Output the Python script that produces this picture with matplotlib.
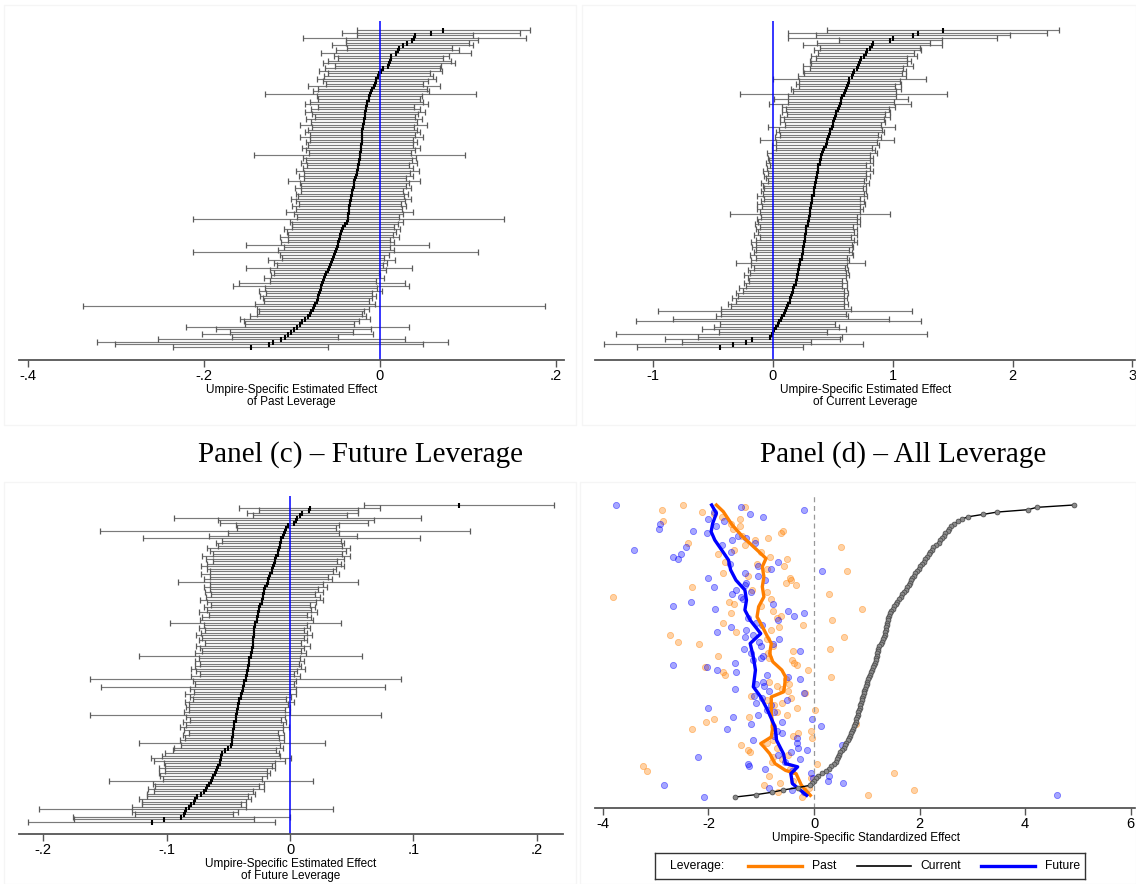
import numpy as np
import matplotlib
matplotlib.use('Agg')
import matplotlib.pyplot as plt
from matplotlib.patches import Rectangle

plt.rcParams['font.family'] = ['Liberation Sans', 'DejaVu Sans']

# ---- data (rows listed from top of each panel to bottom) ----
# Panel (a) past leverage: estimate and CI half-width per umpire
past_est = [0.072, 0.058, 0.040, 0.039, 0.036, 0.031, 0.026, 0.022, 0.020, 0.018,
            0.013, 0.012, 0.011, 0.010, 0.009, 0.003, 0.001, -0.001, -0.002, -0.004,
            -0.005, -0.006, -0.007, -0.009, -0.010, -0.011, -0.012, -0.013, -0.015, -0.015,
            -0.016, -0.016, -0.017, -0.017, -0.017, -0.018, -0.018, -0.019, -0.019, -0.020,
            -0.020, -0.020, -0.021, -0.021, -0.021, -0.022, -0.022, -0.022, -0.023, -0.023,
            -0.023, -0.024, -0.024, -0.025, -0.025, -0.026, -0.026, -0.027, -0.028, -0.029,
            -0.029, -0.030, -0.031, -0.032, -0.032, -0.033, -0.033, -0.034, -0.034, -0.035,
            -0.035, -0.035, -0.036, -0.036, -0.036, -0.038, -0.040, -0.042, -0.043, -0.044,
            -0.045, -0.046, -0.047, -0.048, -0.048, -0.049, -0.050, -0.051, -0.052, -0.053,
            -0.055, -0.056, -0.057, -0.058, -0.059, -0.061, -0.062, -0.064, -0.065, -0.066,
            -0.067, -0.067, -0.068, -0.069, -0.070, -0.071, -0.072, -0.074, -0.075, -0.076,
            -0.078, -0.080, -0.082, -0.085, -0.089, -0.091, -0.094, -0.098, -0.101, -0.105,
            -0.108, -0.112, -0.122, -0.126, -0.147]
past_hw = [0.098, 0.101, 0.066, 0.127, 0.075, 0.070, 0.080, 0.060, 0.070, 0.085,
           0.065, 0.060, 0.070, 0.075, 0.060, 0.065, 0.070, 0.058, 0.062, 0.068,
           0.060, 0.055, 0.075, 0.062, 0.066, 0.120, 0.060, 0.058, 0.064, 0.070,
           0.055, 0.062, 0.068, 0.060, 0.057, 0.066, 0.060, 0.072, 0.058, 0.062,
           0.065, 0.060, 0.070, 0.058, 0.063, 0.060, 0.067, 0.062, 0.058, 0.120,
           0.064, 0.060, 0.066, 0.058, 0.062, 0.070, 0.060, 0.065, 0.058, 0.075,
           0.062, 0.060, 0.066, 0.058, 0.064, 0.060, 0.068, 0.062, 0.058, 0.065,
           0.060, 0.072, 0.062, 0.058, 0.177, 0.064, 0.060, 0.058, 0.066, 0.062,
           0.060, 0.068, 0.058, 0.064, 0.104, 0.060, 0.066, 0.162, 0.062, 0.058,
           0.072, 0.064, 0.060, 0.094, 0.066, 0.060, 0.062, 0.068, 0.060, 0.094,
           0.100, 0.064, 0.070, 0.060, 0.066, 0.062, 0.060, 0.068, 0.263, 0.064,
           0.060, 0.060, 0.066, 0.074, 0.065, 0.062, 0.127, 0.088, 0.070, 0.097,
           0.060, 0.140, 0.199, 0.175, 0.088]

# Panel (b) current leverage
curr_est = [1.42, 1.21, 1.17, 1.00, 0.98, 0.84, 0.83, 0.81, 0.79, 0.78,
            0.76, 0.74, 0.73, 0.72, 0.71, 0.70, 0.68, 0.67, 0.66, 0.64,
            0.64, 0.63, 0.62, 0.61, 0.60, 0.59, 0.58, 0.57, 0.57, 0.56,
            0.55, 0.54, 0.53, 0.53, 0.52, 0.51, 0.50, 0.50, 0.49, 0.48,
            0.48, 0.47, 0.46, 0.45, 0.45, 0.44, 0.43, 0.42, 0.41, 0.40,
            0.40, 0.39, 0.39, 0.38, 0.38, 0.38, 0.37, 0.37, 0.36, 0.36,
            0.35, 0.35, 0.34, 0.34, 0.34, 0.33, 0.33, 0.33, 0.32, 0.32,
            0.31, 0.31, 0.31, 0.30, 0.30, 0.29, 0.29, 0.28, 0.28, 0.28,
            0.27, 0.27, 0.27, 0.26, 0.26, 0.25, 0.25, 0.25, 0.24, 0.24,
            0.23, 0.23, 0.22, 0.22, 0.21, 0.21, 0.20, 0.20, 0.19, 0.19,
            0.18, 0.17, 0.17, 0.16, 0.15, 0.14, 0.14, 0.13, 0.12, 0.11,
            0.10, 0.09, 0.08, 0.07, 0.05, 0.04, 0.03, 0.01, 0.00, -0.01,
            -0.02, -0.17, -0.22, -0.33, -0.44]
curr_hw = [0.97, 1.08, 0.81, 0.87, 0.43, 0.47, 0.58, 0.42, 0.45, 0.40,
           0.44, 0.38, 0.42, 0.40, 0.46, 0.39, 0.43, 0.41, 0.45, 0.64,
           0.42, 0.44, 0.40, 0.46, 0.43, 0.86, 0.45, 0.56, 0.44, 0.59,
           0.47, 0.43, 0.45, 0.41, 0.46, 0.42, 0.44, 0.40, 0.53, 0.43,
           0.45, 0.41, 0.44, 0.56, 0.42, 0.45, 0.40, 0.43, 0.46, 0.41,
           0.44, 0.42, 0.45, 0.40, 0.43, 0.46, 0.41, 0.44, 0.42, 0.40,
           0.45, 0.43, 0.41, 0.44, 0.42, 0.46, 0.40, 0.43, 0.45, 0.41,
           0.44, 0.42, 0.67, 0.40, 0.43, 0.41, 0.44, 0.39, 0.42, 0.40,
           0.43, 0.38, 0.41, 0.44, 0.40, 0.42, 0.39, 0.41, 0.43, 0.38,
           0.41, 0.54, 0.40, 0.38, 0.42, 0.40, 0.44, 0.41, 0.39, 0.43,
           0.40, 0.45, 0.42, 0.47, 0.44, 0.48, 0.45, 0.50, 0.47, 0.54,
           1.06, 0.52, 0.55, 0.90, 1.19, 0.48, 0.52, 0.60, 0.45, 1.30,
           0.60, 0.73, 0.54, 1.08, 0.69]

# Panel (c) future leverage
fut_est = [0.137, 0.016, 0.015, 0.010, 0.008, 0.006, 0.005, 0.003, -0.002, -0.003,
           -0.004, -0.005, -0.006, -0.007, -0.007, -0.008, -0.008, -0.009, -0.010, -0.010,
           -0.011, -0.012, -0.012, -0.013, -0.014, -0.015, -0.015, -0.016, -0.017, -0.018,
           -0.018, -0.019, -0.020, -0.021, -0.021, -0.022, -0.022, -0.023, -0.023, -0.024,
           -0.025, -0.025, -0.026, -0.026, -0.027, -0.027, -0.028, -0.028, -0.029, -0.029,
           -0.029, -0.029, -0.030, -0.030, -0.030, -0.030, -0.031, -0.031, -0.032, -0.032,
           -0.033, -0.033, -0.033, -0.034, -0.034, -0.035, -0.035, -0.036, -0.036, -0.037,
           -0.037, -0.038, -0.038, -0.039, -0.040, -0.040, -0.041, -0.041, -0.042, -0.042,
           -0.043, -0.043, -0.044, -0.044, -0.044, -0.045, -0.045, -0.045, -0.046, -0.046,
           -0.046, -0.047, -0.047, -0.047, -0.048, -0.050, -0.053, -0.055, -0.056, -0.056,
           -0.057, -0.057, -0.058, -0.059, -0.060, -0.061, -0.062, -0.063, -0.064, -0.066,
           -0.067, -0.068, -0.070, -0.072, -0.075, -0.077, -0.078, -0.080, -0.082, -0.084,
           -0.085, -0.086, -0.088, -0.102, -0.112]
fut_hw = [0.077, 0.057, 0.040, 0.045, 0.038, 0.100, 0.063, 0.060, 0.042, 0.040,
          0.150, 0.045, 0.060, 0.112, 0.048, 0.052, 0.050, 0.058, 0.055, 0.052,
          0.060, 0.056, 0.050, 0.054, 0.058, 0.052, 0.050, 0.056, 0.048, 0.052,
          0.073, 0.046, 0.050, 0.044, 0.048, 0.042, 0.046, 0.050, 0.044, 0.040,
          0.045, 0.042, 0.048, 0.040, 0.044, 0.046, 0.069, 0.042, 0.045, 0.040,
          0.043, 0.047, 0.041, 0.044, 0.039, 0.046, 0.042, 0.040, 0.045, 0.090,
          0.041, 0.044, 0.040, 0.043, 0.046, 0.041, 0.038, 0.044, 0.126, 0.042,
          0.040, 0.115, 0.043, 0.039, 0.045, 0.041, 0.038, 0.044, 0.040, 0.042,
          0.039, 0.043, 0.118, 0.040, 0.037, 0.042, 0.039, 0.044, 0.040, 0.036,
          0.041, 0.038, 0.042, 0.075, 0.040, 0.044, 0.042, 0.046, 0.048, 0.057,
          0.053, 0.045, 0.043, 0.047, 0.041, 0.045, 0.043, 0.040, 0.083, 0.045,
          0.042, 0.047, 0.040, 0.044, 0.041, 0.045, 0.042, 0.040, 0.046, 0.119,
          0.043, 0.040, 0.088, 0.073, 0.100]

# Panel (d) standardized effects, rows sorted by current effect
std_curr = [4.92, 4.22, 4.05, 3.47, 3.20, 2.92, 2.80, 2.72, 2.66, 2.60,
            2.56, 2.53, 2.49, 2.46, 2.42, 2.39, 2.36, 2.31, 2.26, 2.23,
            2.20, 2.17, 2.14, 2.11, 2.08, 2.04, 2.01, 1.98, 1.95, 1.92,
            1.89, 1.86, 1.84, 1.82, 1.79, 1.77, 1.74, 1.71, 1.67, 1.64,
            1.61, 1.58, 1.55, 1.52, 1.49, 1.45, 1.43, 1.42, 1.41, 1.40,
            1.39, 1.38, 1.37, 1.36, 1.35, 1.34, 1.33, 1.31, 1.28, 1.26,
            1.24, 1.22, 1.21, 1.20, 1.19, 1.18, 1.17, 1.15, 1.13, 1.11,
            1.09, 1.07, 1.06, 1.04, 1.03, 1.01, 1.00, 0.98, 0.97, 0.95,
            0.94, 0.93, 0.91, 0.90, 0.89, 0.88, 0.87, 0.86, 0.84, 0.83,
            0.82, 0.80, 0.79, 0.77, 0.76, 0.74, 0.72, 0.70, 0.68, 0.66,
            0.64, 0.60, 0.58, 0.56, 0.53, 0.50, 0.48, 0.45, 0.43, 0.41,
            0.38, 0.33, 0.28, 0.22, 0.15, 0.08, 0.03, 0.00, -0.04, -0.07,
            -0.30, -0.58, -0.80, -1.10, -1.49]
std_past = [-2.49, -1.31, -2.88, -2.12, -1.90, -1.75, -1.40, -2.86, -1.58, -1.41,
            -1.53, -0.58, -0.62, -1.36, -0.88, -1.11, -2.39, -1.30, 0.51, -1.51,
            -1.00, -1.82, -0.84, -0.52, -1.68, -1.08, -0.56, -0.90, 0.63, -1.72,
            -1.26, -0.46, -0.43, -0.53, -0.34, -2.31, -1.18, -0.90, 0.29, -3.81,
            -0.81, -1.62, -1.52, -1.00, 0.90, -0.78, -1.58, -0.63, -0.71, 0.34,
            -1.73, -0.21, -0.66, -0.82, -1.48, -2.73, 0.56, -0.90, -2.57, -2.18,
            -0.78, 0.30, -0.40, -0.88, -1.82, -0.85, -0.41, -0.38, -0.33, -2.07,
            -0.11, -1.72, -1.68, 0.32, -0.54, -0.86, -0.48, -0.70, -0.60, -0.49,
            -0.17, -1.20, -0.44, -0.90, -0.61, -0.75, -0.33, 0.01, -0.70, -0.52,
            -1.23, -1.90, -2.05, 0.80, -0.78, -2.32, -0.06, -0.31, -0.40, -0.03,
            -0.78, -0.90, -1.38, -0.70, -1.25, -1.21, -0.50, -0.78, -0.60, -0.80,
            0.05, -3.24, -0.45, -3.16, 1.52, -0.85, -0.06, -0.40, -0.64, -0.95,
            -0.09, 1.89, -0.68, 1.03, -0.22]
std_fut = [-3.76, -1.38, -0.19, -1.90, -1.21, -0.96, -2.00, -1.70, -2.92, -1.85,
           -2.94, -2.29, -2.02, -1.45, -1.28, -1.55, -1.11, -1.75, -2.43, -3.41,
           -1.58, -2.52, -2.67, -2.57, -0.69, -1.60, -1.07, -0.81, 0.16, -1.31,
           -1.07, -2.00, -0.93, -1.28, -1.30, -1.90, -1.48, -1.20, -1.55, -1.38,
           -1.35, -2.33, -0.78, -2.67, -1.87, -0.49, -0.19, -0.38, -1.25, -0.68,
           -1.10, -0.98, -1.58, -1.29, -1.83, -1.15, -1.31, -0.66, -1.05, -0.78,
           -1.00, -1.33, -0.26, -1.20, -0.96, -1.00, -1.15, -1.49, -2.67, -2.03,
           -1.84, -1.47, -0.89, -0.49, -0.27, -0.97, -1.10, -0.95, -1.49, -0.85,
           -0.19, -1.13, -0.98, -0.51, -1.10, -0.81, -2.00, -0.90, -0.75, -1.07,
           -1.53, -0.04, -0.60, -1.20, 0.14, -1.65, -0.70, -0.60, -0.76, -0.33,
           -1.15, -0.33, 0.53, -0.31, -0.14, -0.44, -0.68, -2.19, -0.27, -0.55,
           -1.26, -1.23, -0.93, -0.41, -0.06, 0.28, -0.02, 0.26, 0.54, -2.84,
           -0.86, -0.41, -0.19, 4.60, -2.08]

# moving-average lines in panel (d): row position (from top) and value
past_line_row = [0, 2.8, 8.5, 13.5, 19.1, 22.7, 26.2, 30.5, 34.7, 39, 43.2, 47.5, 50.3,
                 56, 58.8, 63.1, 66.6, 70.1, 73, 77.2, 79.4, 81.5, 88.6, 94.2, 98.5,
                 101.3, 102.7, 105.6, 109.8, 112.7, 114.1, 119, 123.3]
past_line_val = [-1.85, -1.72, -1.55, -1.35, -1.08, -0.91, -0.98, -0.95, -0.98, -0.95,
                 -1.05, -1.08, -1.01, -0.88, -0.81, -0.84, -0.78, -0.61, -0.54, -0.56,
                 -0.58, -0.81, -0.81, -0.78, -0.81, -1.01, -0.95, -0.84, -0.74, -0.54,
                 -0.34, -0.24, -0.07]
fut_line_row = [0, 3.5, 7.8, 11.3, 14.9, 19.1, 23.4, 27.6, 31.9, 36.1, 40.4, 44.6, 48.9,
                54.6, 58.8, 64.5, 70.1, 77.2, 81.5, 87.1, 94.2, 99.9, 105.6, 109.8,
                111.2, 114.1, 118.3, 123.3]
fut_line_val = [-1.94, -1.85, -1.92, -1.95, -1.88, -1.75, -1.62, -1.58, -1.48, -1.31,
                -1.28, -1.31, -1.21, -1.01, -1.21, -1.15, -1.11, -1.15, -1.01, -0.88,
                -0.74, -0.71, -0.58, -0.54, -0.31, -0.44, -0.41, -0.14]

W, H = 1136, 884
fig = plt.figure(figsize=(W / 100, H / 100), dpi=100)


def px_axes(x0, y0, x1, y1):
    # box given in pixels, origin top-left
    return fig.add_axes([x0 / W, 1 - y1 / H, (x1 - x0) / W, (y1 - y0) / H])


def style_axis(ax, ticks, labels):
    for s in ['top', 'right', 'left']:
        ax.spines[s].set_visible(False)
    ax.spines['bottom'].set_color('#555555')
    ax.spines['bottom'].set_linewidth(1.3)
    ax.set_yticks([])
    ax.set_xticks(ticks)
    ax.set_xticklabels(labels)
    ax.tick_params(axis='x', length=5, width=1, color='#555555', labelsize=10.5, pad=1.5)


def coef_panel(box, top_row, bot_row, est, hw, xlim, ticks, labels, xlabel):
    ax = px_axes(*box)
    est = np.array(est)
    hw = np.array(hw)
    n = len(est)
    yy = np.arange(n)[::-1]
    lo, hi = est - hw, est + hw
    ax.hlines(yy, lo, hi, color='#7a7a7a', lw=0.85)
    ax.plot(lo, yy, '|', ms=4.5, mew=0.9, color='#5a5a5a')
    ax.plot(hi, yy, '|', ms=4.5, mew=0.9, color='#5a5a5a')
    ax.plot(est, yy, '|', ms=3.6, mew=1.5, color='black')
    ax.axvline(0, color='#0000ff', lw=1.1)
    sp = (bot_row - top_row) / (n - 1)
    ax.set_ylim(-(box[3] - bot_row) / sp, n - 1 + (top_row - box[1]) / sp)
    ax.set_xlim(*xlim)
    style_axis(ax, ticks, labels)
    ax.set_xlabel(xlabel, fontsize=8.5, labelpad=0.5, linespacing=1.0)
    return ax


coef_panel((19, 21, 564, 360), 30, 347, past_est, past_hw, (-0.4102, 0.2091),
           [-0.4, -0.2, 0, 0.2], ['-.4', '-.2', '0', '.2'],
           'Umpire-Specific Estimated Effect\nof Past Leverage')
coef_panel((595, 21, 1136, 360), 30, 347, curr_est, curr_hw, (-1.483, 3.03),
           [-1, 0, 1, 2, 3], ['-1', '0', '1', '2', '3'],
           'Umpire-Specific Estimated Effect\nof Current Leverage')
coef_panel((19, 496, 563, 834), 505, 822, fut_est, fut_hw, (-0.2196, 0.2212),
           [-0.2, -0.1, 0, 0.1, 0.2], ['-.2', '-.1', '0', '.1', '.2'],
           'Umpire-Specific Estimated Effect\nof Future Leverage')

# panel (d)
ax = px_axes(595, 495, 1136, 808)
n = len(std_curr)
yy = np.arange(n)[::-1]
sp = (797 - 505) / (n - 1)
ax.axvline(0, color='#999999', lw=0.9, dashes=(4, 3))
ax.scatter(std_past, yy, s=20, facecolor=(1, 0.5, 0, 0.35), edgecolor=(1, 0.5, 0, 0.45), lw=0.6)
ax.scatter(std_fut, yy, s=20, facecolor=(0, 0, 1, 0.35), edgecolor=(0, 0, 1, 0.45), lw=0.6)
ax.plot(past_line_val, n - 1 - np.array(past_line_row), color='#ff7f00', lw=2.4)
ax.plot(fut_line_val, n - 1 - np.array(fut_line_row), color='#0000ff', lw=2.4)
ax.plot(std_curr, yy, color='black', lw=1.0, marker='o', ms=3.5,
        mfc='#8a8a8a', mec='#444444', mew=0.5)
ax.set_ylim(-(808 - 797) / sp, n - 1 + (505 - 495) / sp)
ax.set_xlim(-4.15, 6.1)
style_axis(ax, [-4, -2, 0, 2, 4, 6], ['-4', '-2', '0', '2', '4', '6'])
ax.set_xlabel('Umpire-Specific Standardized Effect', fontsize=8.5, labelpad=0.5)

# legend box for panel (d)
lg = px_axes(655, 853, 1085, 879)
lg.set_xticks([])
lg.set_yticks([])
for s in lg.spines.values():
    s.set_color('#333333')
    s.set_linewidth(1.0)
lg.set_xlim(0, 1)
lg.set_ylim(0, 1)
lg.text(0.035, 0.5, 'Leverage:', fontsize=8.7, va='center')
items = [('Past', '#ff7f00', 2.4, 0.216), ('Current', 'black', 1.2, 0.47),
         ('Future', '#0000ff', 2.4, 0.758)]
for name, col, lw, x0 in items:
    lg.plot([x0, x0 + 0.126], [0.5, 0.5], color=col, lw=lw)
    lg.text(x0 + 0.148, 0.5, name, fontsize=8.7, va='center')

# panel titles
fig.text(360 / W, 1 - 455 / H, 'Panel (c) \u2013 Future Leverage', family='Liberation Serif',
         fontsize=21, ha='center', va='center')
fig.text(903 / W, 1 - 455 / H, 'Panel (d) \u2013 All Leverage', family='Liberation Serif',
         fontsize=21, ha='center', va='center')

# faint graph-region frames
for x0, y0, x1, y1 in [(4, 5, 576, 425), (582, 5, 1136, 425), (4, 482, 576, 884), (580, 482, 1136, 884)]:
    fig.patches.append(Rectangle((x0 / W, 1 - y1 / H), (x1 - x0) / W, (y1 - y0) / H,
                                 transform=fig.transFigure, fill=False, ec='#f5f5f5', lw=1))

fig.savefig('out.png', dpi=100)
